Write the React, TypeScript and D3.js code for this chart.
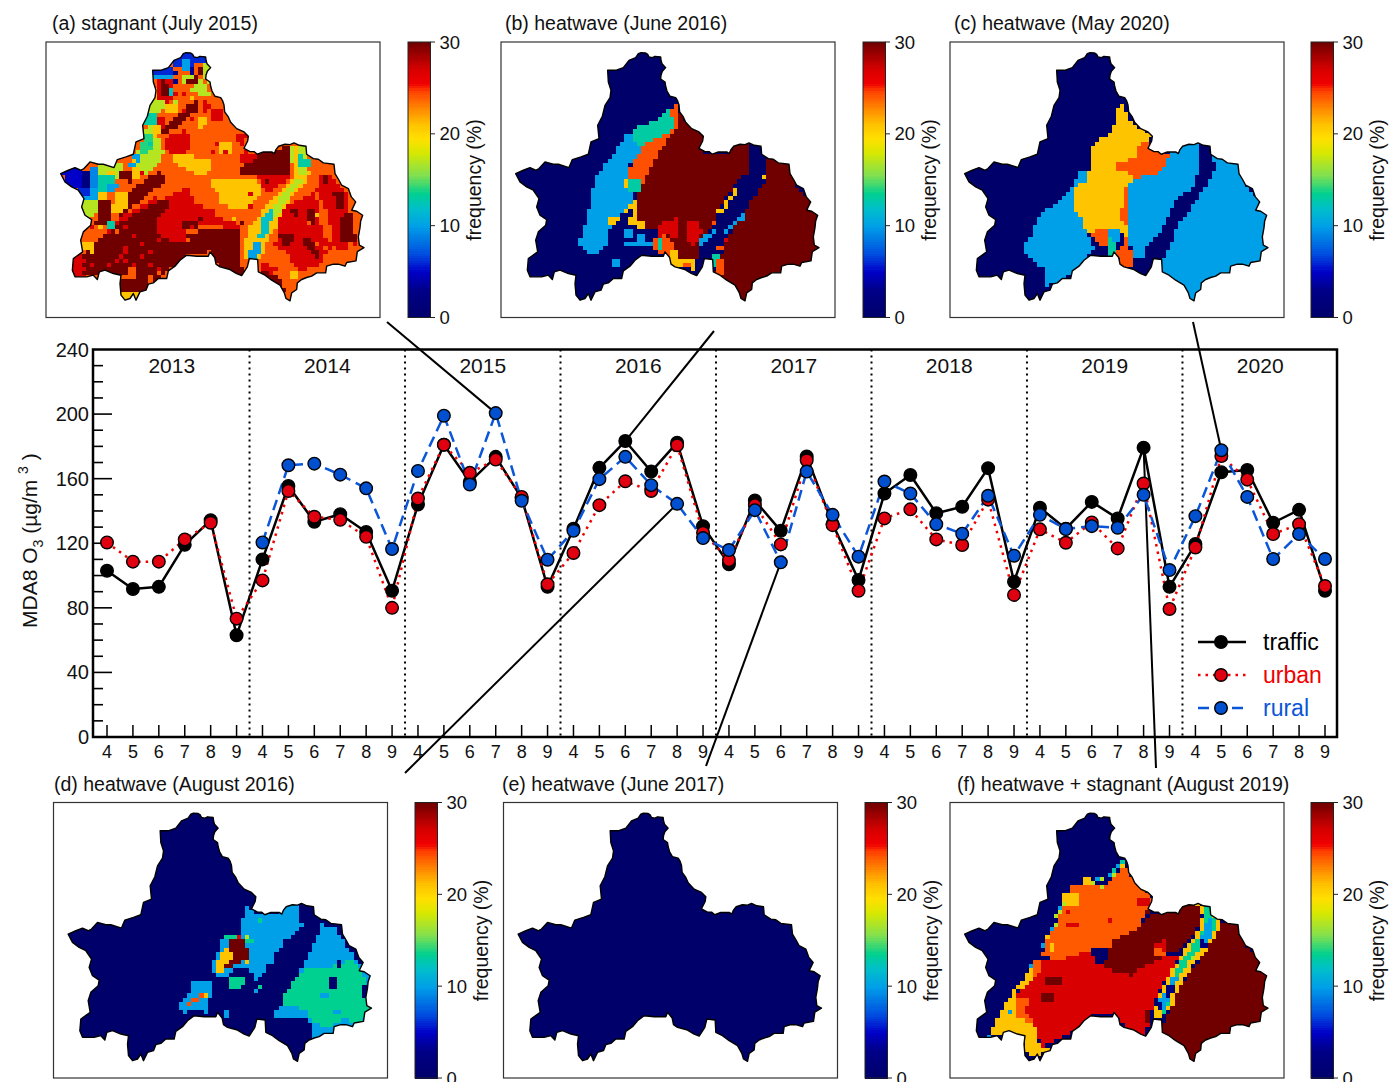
import React from "react";
import * as d3 from "d3";

type Pt = [number, number];
type Zone = [number, Pt[]];
type Spot = [number, number, number];

const years = [2013, 2014, 2015, 2016, 2017, 2018, 2019, 2020];
const months = [4, 5, 6, 7, 8, 9];

const traffic = [
  103, 91.7, 93, 119, 134.3, 63,
  110, 155.5, 133.3, 138, 127, 90.6,
  144, 181, 158, 173.5, 148, 93,
  129, 166.7, 183.3, 164.4, 182.3, 130.6,
  107, 146.5, 127.7, 173.7, 132, 97.2,
  150.8, 162.3, 138.6, 142.6, 166.5, 96.2,
  142, 129, 145.6, 135.4, 179.2, 93,
  119.5, 164, 165.4, 132.7, 140.7, 90.6,
];
const urban = [
  120.5, 108.6, 108.6, 122.4, 132.7, 73.3,
  97, 152.4, 136.4, 134.5, 124, 80,
  147.7, 181, 163.6, 171.8, 148.7, 94.6,
  114, 143.6, 158.4, 152.4, 180.7, 126.5,
  109.6, 143.6, 119.3, 171.4, 131.2, 90.6,
  135.4, 141, 122.4, 118.9, 147, 88,
  128.6, 120.3, 132.9, 116.8, 157, 79.3,
  117.4, 174, 159.4, 125.7, 131.8, 93.5,
];
const rural = [
  null, null, null, null, null, null,
  120.5, 168.3, 169.3, 162.5, 154, 116.4,
  164.8, 199, 156.4, 200.6, 146.3, 109.8,
  127.7, 159.7, 173.5, 156, 144.4, 123.2,
  115.8, 140.5, 108.2, 164.4, 137.6, 111.7,
  158.2, 150.8, 131.8, 125.9, 149.4, 112.3,
  137.6, 128.8, 130.6, 129.6, 150, 103.4,
  136.8, 177.6, 148.7, 110.2, 125.7, 110.2,
];

// outline of the basin, read in map units (3x the panel's pixels)
const outline: Pt[] = [
  [430, 130], [438, 127], [452, 128], [458, 132], [462, 140], [472, 142], [480, 138], [497, 140], [498, 150], [501, 160],
  [512, 172], [502, 183], [498, 195], [497, 206], [510, 215], [512, 228], [516, 242], [525, 258], [542, 262], [548, 272],
  [552, 284], [554, 305], [565, 320], [572, 336], [590, 355], [612, 365], [625, 378], [623, 392], [612, 414], [630, 424],
  [642, 424], [652, 432], [670, 425], [695, 425], [703, 430], [708, 418], [716, 408], [735, 402], [750, 403], [762, 398],
  [778, 405], [798, 408], [800, 432], [820, 445], [835, 447], [850, 458], [882, 462], [885, 490], [897, 510], [905, 525],
  [925, 535], [934, 560], [947, 575], [935, 600], [950, 603], [968, 615], [962, 632], [960, 652], [955, 680], [958, 705],
  [972, 712], [952, 724], [948, 752], [920, 757], [915, 768], [895, 762], [880, 762], [860, 768], [857, 788], [830, 788],
  [815, 798], [800, 802], [785, 808], [772, 818], [770, 838], [755, 848], [750, 872], [738, 865], [733, 848], [720, 825],
  [695, 810], [675, 795], [655, 785], [653, 748], [628, 745], [622, 770], [605, 796], [590, 790], [570, 778], [540, 770],
  [528, 762], [524, 742], [510, 725], [505, 738], [470, 738], [440, 735], [420, 750], [405, 768], [385, 782], [380, 805],
  [355, 805], [340, 818], [325, 822], [318, 840], [300, 845], [288, 870], [280, 850], [270, 865], [255, 870], [243, 855],
  [240, 820], [243, 795], [220, 790], [195, 780], [178, 785], [172, 808], [160, 795], [140, 800], [105, 800], [97, 780],
  [100, 745], [128, 725], [122, 690], [130, 665], [152, 645], [155, 628], [135, 615], [125, 590], [132, 565], [115, 540],
  [95, 530], [75, 515], [62, 490], [85, 480], [105, 472], [122, 480], [132, 475], [150, 455], [175, 462], [190, 462],
  [222, 472], [232, 448], [258, 440], [280, 432], [288, 395], [312, 385], [308, 345], [322, 318], [330, 285], [345, 262],
  [348, 240], [340, 215], [338, 180], [362, 180], [385, 172], [402, 150], [422, 142],
];

const zonesA: Zone[] = [
  [27, [[345, 320], [375, 320], [380, 375], [345, 375]]],
  [17, [[320, 345], [350, 345], [370, 430], [350, 470], [320, 500], [275, 480], [290, 420], [315, 380]]],
  [21, [[330, 340], [360, 345], [365, 375], [335, 380]]],
  [14, [[320, 370], [340, 380], [330, 420], [295, 440], [300, 400]]],
  [10, [[275, 440], [300, 430], [290, 470], [265, 470]]],
  [21, [[270, 470], [310, 480], [300, 505], [275, 500]]],
  [27, [[350, 575], [380, 560], [440, 530], [470, 580], [520, 600], [530, 625], [590, 630], [600, 660], [510, 645], [430, 630], [440, 690], [400, 700], [355, 670], [350, 620]]],
  [27, [[235, 620], [350, 560], [350, 670], [280, 700], [170, 700]]],
  [27, [[90, 735], [128, 715], [135, 810], [90, 800]]],
  [30, [[120, 745], [170, 700], [200, 670], [255, 630], [300, 600], [350, 575], [380, 560], [385, 590], [350, 620], [355, 670], [400, 700], [440, 690], [440, 735], [395, 775], [345, 815], [250, 800], [175, 795], [125, 800]]],
  [30, [[260, 560], [300, 520], [360, 480], [385, 510], [330, 545], [290, 580], [240, 620]]],
  [30, [[440, 665], [595, 660], [610, 800], [540, 775], [510, 725], [440, 735], [445, 690]]],
  [30, [[430, 630], [470, 630], [470, 660], [430, 660]]],
  [27, [[370, 380], [440, 360], [455, 390], [440, 430], [395, 430], [370, 410]]],
  [30, [[360, 365], [400, 325], [440, 290], [478, 268], [478, 295], [420, 340], [380, 375]]],
  [27, [[515, 300], [550, 300], [550, 335], [515, 335]]],
  [27, [[490, 270], [520, 290], [490, 310]]],
  [21, [[470, 320], [505, 315], [495, 345], [470, 345]]],
  [27, [[585, 365], [625, 375], [610, 405], [595, 400]]],
  [21, [[515, 505], [640, 505], [670, 535], [640, 580], [610, 600], [590, 600], [540, 575], [530, 540], [515, 530]]],
  [21, [[400, 435], [480, 440], [520, 455], [515, 475], [495, 500], [440, 480], [400, 460]]],
  [21, [[540, 395], [575, 395], [570, 435], [540, 430]]],
  [27, [[610, 425], [650, 430], [640, 462], [598, 462], [595, 440]]],
  [27, [[650, 490], [750, 500], [690, 550], [670, 530]]],
  [30, [[598, 465], [640, 462], [650, 430], [750, 410], [750, 500], [700, 490], [645, 490], [598, 490]]],
  // east side
  [27, [[715, 600], [830, 545], [835, 620], [860, 690], [880, 710], [830, 770], [780, 780], [730, 720], [705, 710]]],
  [30, [[715, 670], [760, 670], [755, 710], [725, 712]]],
  [30, [[785, 685], [825, 690], [835, 745], [800, 720]]],
  [30, [[810, 585], [835, 615], [820, 640], [800, 620]]],
  [30, [[760, 590], [780, 590], [780, 615], [760, 615]]],
  [27, [[840, 500], [880, 500], [930, 560], [930, 610], [950, 700], [900, 730], [880, 700], [860, 600], [830, 540]]],
  [30, [[880, 545], [915, 545], [915, 600], [885, 595]]],
  [30, [[895, 620], [930, 605], [950, 700], [905, 690]]],
  [27, [[660, 750], [690, 760], [700, 790], [670, 790]]],
  [30, [[655, 780], [690, 790], [715, 805], [755, 872], [735, 850], [690, 812]]],
  [21, [[750, 780], [775, 780], [775, 805], [750, 805]]],
  // diagonal valley
  [21, [[610, 740], [620, 680], [660, 610], [720, 540], [770, 500], [820, 480], [800, 510], [750, 570], [710, 630], [665, 740]]],
  [17, [[755, 515], [790, 505], [760, 545], [720, 600], [690, 640], [680, 625], [710, 575]]],
  [12, [[670, 620], [705, 590], [680, 680], [650, 690]]],
  [10, [[640, 700], [665, 690], [655, 745], [625, 745]]],
  [17, [[750, 405], [790, 405], [810, 450], [795, 490], [760, 490]]],
  [13, [[780, 435], [810, 445], [810, 465], [780, 465]]],
  [21, [[760, 405], [778, 405], [778, 490], [760, 490]]],
  // west arm
  [17, [[165, 465], [240, 450], [250, 480], [220, 520], [170, 490]]],
  [21, [[190, 490], [225, 480], [220, 495], [190, 500]]],
  [13, [[170, 500], [220, 500], [220, 540], [170, 540]]],
  [10, [[205, 515], [240, 515], [225, 545], [200, 540]]],
  [30, [[240, 480], [275, 480], [275, 515], [240, 510]]],
  [21, [[225, 545], [260, 540], [255, 610], [215, 610]]],
  [21, [[170, 540], [205, 540], [205, 570], [170, 570]]],
  [30, [[175, 575], [215, 575], [205, 640], [160, 650], [180, 610]]],
  [17, [[120, 575], [170, 570], [170, 600], [145, 635], [120, 610]]],
  [9, [[155, 470], [172, 470], [172, 530], [155, 530]]],
  [5, [[55, 470], [122, 470], [122, 530], [85, 530]]],
  [2, [[120, 478], [155, 478], [155, 530], [120, 530]]],
  [6, [[100, 530], [155, 530], [155, 555], [120, 555]]],
  [10, [[155, 530], [175, 530], [175, 570], [120, 570], [120, 555], [155, 555]]],
  [21, [[125, 690], [165, 690], [165, 730], [130, 720]]],
  [13, [[205, 630], [230, 630], [230, 655], [205, 655]]],
  // bottom lobe
  [24, [[265, 775], [290, 775], [290, 810], [265, 810]]],
  [30, [[240, 810], [325, 810], [325, 845], [240, 845]]],
  [21, [[240, 845], [295, 845], [295, 880], [240, 880]]],
  // north tip
  [17, [[430, 190], [470, 195], [520, 260], [475, 260], [460, 220], [430, 225]]],
  [21, [[335, 230], [365, 230], [370, 270], [335, 270]]],
  [17, [[320, 265], [370, 270], [370, 300], [320, 305]]],
  [21, [[370, 290], [410, 280], [420, 310], [380, 310]]],
  [13, [[305, 310], [352, 310], [352, 340], [305, 340]]],
  [27, [[345, 205], [395, 205], [395, 265], [345, 265]]],
  [30, [[360, 205], [380, 205], [385, 265], [360, 255]]],
  [30, [[430, 205], [470, 200], [470, 225], [440, 225]]],
  [30, [[475, 175], [495, 175], [490, 200], [475, 195]]],
  [17, [[495, 150], [515, 170], [515, 230], [490, 200]]],
  [12, [[385, 230], [405, 230], [405, 260], [385, 260]]],
  [10, [[335, 195], [395, 195], [395, 210], [335, 210]]],
  [6, [[330, 170], [405, 165], [405, 195], [330, 195]]],
  [3, [[395, 185], [415, 185], [415, 225], [395, 225]]],
  [6, [[405, 120], [500, 120], [505, 150], [470, 160], [445, 175], [405, 170]]],
  [10, [[420, 150], [445, 150], [445, 185], [420, 185]]],
  [3, [[445, 170], [460, 170], [460, 195], [445, 195]]],
];

const spotsA: Spot[] = [
  [250, 715, 27], [262, 730, 27], [240, 740, 27], [312, 712, 27], [325, 730, 27], [300, 740, 27], [350, 690, 27],
  [262, 750, 27], [275, 770, 27], [225, 760, 27], [212, 770, 27], [150, 770, 27], [125, 760, 27], [330, 770, 27],
  [362, 775, 27], [350, 790, 24], [325, 810, 24], [137, 750, 27], [137, 780, 27], [275, 675, 27], [170, 675, 24],
  [150, 690, 24], [137, 670, 24], [150, 655, 27], [175, 660, 21], [225, 665, 24], [237, 625, 24], [250, 650, 27],
  [462, 650, 27], [487, 625, 30], [512, 620, 27], [487, 545, 24], [487, 560, 24], [525, 580, 24], [575, 635, 21],
  [600, 640, 30], [575, 650, 27], [625, 560, 27], [637, 590, 27], [662, 575, 24], [687, 520, 30], [712, 550, 24],
  [520, 425, 27], [537, 412, 27], [550, 437, 27], [537, 450, 24], [487, 362, 21], [400, 250, 24], [412, 262, 27],
  [425, 240, 24], [437, 255, 27], [450, 270, 21], [462, 240, 17], [487, 250, 17], [500, 262, 17], [412, 212, 24],
  [375, 287, 27], [400, 287, 17], [412, 300, 21], [437, 312, 27], [450, 325, 27], [350, 412, 17], [362, 387, 24],
  [287, 450, 21], [312, 450, 17], [337, 400, 13], [350, 350, 21], [300, 490, 27], [825, 620, 21], [800, 640, 24],
  [760, 605, 30], [775, 625, 27], [700, 650, 21], [637, 650, 21], [650, 630, 21], [925, 710, 24], [912, 745, 24],
  [862, 500, 30], [850, 520, 30], [812, 520, 24], [837, 700, 24], [862, 720, 24], [700, 775, 27], [725, 790, 24],
];

const zonesB: Zone[] = [
  [10, [[395, 370], [445, 395], [440, 420], [410, 455], [395, 480], [395, 510], [415, 545], [415, 570], [385, 600], [370, 620], [345, 650], [335, 690], [330, 710], [305, 735], [285, 735], [250, 705], [265, 655], [280, 600], [290, 550], [310, 490], [350, 435], [380, 400]]],
  [0, [[345, 650], [370, 625], [385, 650], [385, 720], [330, 720]]],
  [10, [[350, 740], [372, 740], [372, 775], [350, 775]]],
  [10, [[385, 695], [470, 695], [470, 712], [385, 712]]],
  [10, [[385, 655], [410, 655], [410, 682], [385, 682]]],
  [10, [[420, 670], [445, 670], [445, 696], [420, 696]]],
  [13, [[525, 295], [538, 350], [500, 380], [455, 395], [443, 420], [405, 380], [415, 352], [455, 350], [490, 320]]],
  [13, [[405, 505], [442, 505], [442, 545], [405, 545]]],
  [13, [[655, 738], [680, 738], [680, 765], [655, 765]]],
  [24.3, [[525, 295], [548, 285], [550, 350], [510, 395], [470, 470], [445, 515], [400, 510], [395, 480], [440, 420], [455, 395], [500, 380], [538, 350]]],
  [30, [[550, 300], [580, 345], [630, 375], [612, 418], [650, 438], [700, 438], [715, 395], [762, 395], [762, 490], [750, 495], [720, 520], [665, 605], [660, 640], [610, 700], [610, 750], [550, 750], [540, 715], [490, 660], [445, 655], [430, 630], [430, 545], [445, 520], [470, 470], [510, 395], [550, 350]]],
  [30, [[810, 445], [885, 455], [900, 520], [940, 565], [975, 610], [975, 720], [945, 770], [850, 800], [790, 820], [750, 880], [690, 815], [650, 790], [680, 770], [680, 740], [700, 680], [750, 600], [810, 510]]],
  [21, [[430, 545], [430, 630], [455, 630], [455, 655], [430, 655], [405, 642], [408, 600], [385, 612], [385, 600], [408, 585]]],
  [21, [[335, 615], [370, 615], [370, 630], [345, 650], [335, 650]]],
  [21, [[382, 505], [395, 505], [395, 530], [382, 530]]],
  [27, [[480, 660], [510, 630], [550, 625], [550, 680], [540, 690], [510, 670], [490, 680]]],
  [27, [[580, 630], [610, 630], [622, 670], [590, 710], [575, 680]]],
  [24.3, [[465, 695], [490, 680], [510, 670], [540, 710], [550, 750], [525, 745], [490, 725]]],
  [21, [[525, 725], [550, 725], [550, 750], [600, 750], [600, 778], [530, 770]]],
  [24.3, [[560, 752], [590, 752], [590, 765], [560, 765]]],
  [13, [[490, 682], [502, 682], [502, 720], [490, 720]]],
  [21, [[668, 598], [682, 598], [695, 570], [728, 518], [732, 530], [690, 600], [668, 612]]],
  [24.3, [[656, 627], [668, 627], [668, 640], [656, 640]]],
  [24.3, [[668, 750], [682, 750], [682, 800], [660, 790]]],
  [24.3, [[668, 710], [682, 710], [682, 725], [668, 725]]],
  [27, [[692, 680], [705, 680], [705, 695], [692, 695]]],
  [21, [[798, 490], [811, 490], [811, 503], [798, 503]]],
  [10, [[733, 615], [755, 600], [745, 627], [700, 660], [690, 680], [680, 680], [700, 645]]],
  [10, [[610, 695], [660, 650], [665, 660], [620, 710], [610, 710]]],
];

const zonesC: Zone[] = [
  [10, [[545, 530], [570, 505], [630, 490], [665, 460], [680, 420], [715, 395], [760, 395], [760, 480], [745, 530], [700, 565], [665, 625], [650, 670], [605, 710], [605, 750], [560, 750], [555, 690]]],
  [10, [[805, 435], [885, 450], [900, 520], [940, 565], [975, 610], [975, 720], [945, 770], [850, 800], [790, 820], [745, 885], [690, 815], [640, 790], [665, 730], [700, 645], [740, 590], [790, 520], [807, 480]]],
  [10, [[390, 530], [390, 600], [415, 640], [420, 670], [450, 710], [430, 740], [395, 780], [345, 820], [295, 830], [295, 790], [305, 770], [270, 765], [235, 715], [260, 670], [285, 615], [300, 600], [345, 575]]],
  [10, [[400, 478], [430, 478], [430, 530], [390, 535]]],
  [21, [[535, 285], [550, 330], [590, 360], [630, 380], [610, 395], [595, 395], [595, 420], [570, 425], [570, 445], [510, 465], [510, 480], [555, 490], [560, 510], [545, 530], [530, 600], [525, 625], [545, 645], [545, 690], [525, 660], [450, 655], [440, 680], [420, 670], [415, 640], [390, 600], [390, 530], [425, 515], [430, 480], [440, 470], [440, 420], [450, 395], [490, 375], [510, 345], [510, 310]]],
  [24.3, [[595, 395], [610, 395], [610, 420], [675, 430], [665, 460], [630, 490], [570, 505], [555, 490], [510, 480], [510, 465], [570, 445], [570, 425]]],
  [24.3, [[535, 530], [545, 530], [545, 590], [555, 630], [545, 640], [525, 625], [522, 600], [535, 590]]],
  [24.3, [[535, 680], [555, 680], [557, 740], [570, 770], [530, 770], [510, 725], [530, 720]]],
  [24.3, [[450, 655], [485, 655], [485, 700], [475, 715], [450, 695], [438, 680]]],
  [10, [[485, 655], [522, 660], [522, 695], [510, 700], [487, 680]]],
  [13, [[485, 682], [510, 700], [510, 745], [485, 740]]],
];

const zonesD: Zone[] = [
  [10, [[605, 410], [620, 425], [650, 430], [700, 430], [720, 395], [760, 395], [770, 470], [750, 490], [720, 510], [690, 550], [685, 585], [660, 575], [655, 620], [630, 630], [630, 610], [610, 600], [560, 600], [540, 620], [510, 620], [500, 580], [525, 535], [535, 490], [585, 490], [585, 465], [595, 440]]],
  [10, [[830, 460], [870, 475], [905, 530], [940, 575], [975, 615], [985, 715], [950, 770], [850, 800], [795, 830], [795, 760], [785, 740], [745, 750], [690, 750], [690, 720], [712, 710], [712, 680], [750, 630], [785, 560], [815, 510]]],
  [13.5, [[785, 590], [860, 590], [900, 575], [915, 560], [955, 610], [965, 680], [985, 715], [945, 755], [895, 750], [850, 770], [810, 760], [785, 740], [780, 715], [712, 710], [712, 680], [750, 630]]],
  [0, [[845, 625], [880, 625], [880, 655], [845, 655]]],
  [0, [[870, 560], [890, 575], [890, 600], [870, 600]]],
  [0, [[955, 640], [970, 640], [970, 685], [955, 685]]],
  [10, [[830, 670], [855, 670], [855, 682], [830, 682]]],
  [10, [[865, 725], [890, 725], [890, 738], [865, 738]]],
  [13.5, [[535, 490], [580, 490], [580, 505], [535, 505]]],
  [13.5, [[595, 505], [620, 505], [620, 520], [595, 520]]],
  [17, [[595, 490], [618, 490], [618, 505], [595, 505]]],
  [26, [[580, 490], [592, 490], [592, 505], [580, 505]]],
  [30, [[545, 520], [560, 505], [590, 505], [615, 545], [615, 575], [590, 575], [560, 585], [555, 600], [535, 600], [530, 560], [545, 545]]],
  [21, [[533, 535], [555, 535], [558, 560], [570, 570], [545, 575], [535, 600], [525, 612], [510, 600], [510, 575], [530, 560]]],
  [21, [[595, 575], [618, 575], [618, 587], [595, 587]]],
  [13.5, [[560, 615], [590, 615], [605, 650], [560, 655], [545, 640]]],
  [10, [[430, 630], [500, 630], [495, 670], [490, 710], [495, 735], [450, 715], [410, 735], [403, 700], [440, 660]]],
  [10, [[535, 725], [545, 725], [545, 750], [535, 750]]],
  [24.3, [[440, 685], [462, 685], [462, 697], [440, 697]]],
  [24.3, [[427, 698], [440, 698], [440, 710], [427, 710]]],
  [24.3, [[460, 670], [473, 670], [473, 682], [460, 682]]],
  [21, [[473, 670], [486, 670], [486, 682], [473, 682]]],
  [13.5, [[620, 450], [630, 450], [630, 475], [620, 475]]],
  [13.5, [[640, 450], [652, 450], [652, 462], [640, 462]]],
  [13.5, [[640, 645], [652, 645], [652, 657], [640, 657]]],
  [10, [[630, 655], [640, 655], [640, 667], [630, 667]]],
];

const zonesF: Zone[] = [
  [30, [[805, 465], [885, 455], [900, 520], [940, 565], [975, 615], [975, 715], [945, 770], [850, 800], [790, 820], [745, 885], [690, 815], [640, 790], [665, 735], [700, 660], [740, 600], [790, 530], [815, 490]]],
  [24, [[535, 270], [550, 320], [610, 370], [630, 395], [605, 425], [590, 460], [570, 480], [510, 505], [490, 535], [440, 535], [420, 545], [340, 570], [290, 560], [300, 520], [330, 470], [380, 345], [415, 345], [470, 350], [510, 320]]],
  [30, [[605, 425], [650, 435], [710, 400], [755, 395], [760, 460], [745, 495], [720, 520], [695, 545], [665, 545], [650, 560], [620, 580], [590, 600], [555, 615], [500, 600], [450, 585], [485, 570], [490, 535], [510, 505], [570, 480], [590, 460], [610, 440]]],
  [27, [[280, 565], [340, 570], [420, 545], [440, 535], [450, 580], [500, 600], [555, 615], [620, 580], [650, 560], [695, 560], [690, 580], [660, 630], [625, 700], [610, 760], [590, 800], [540, 775], [510, 730], [440, 735], [390, 780], [320, 820], [285, 835], [275, 770], [230, 760], [215, 720], [215, 680], [240, 640], [260, 600]]],
  [24, [[215, 680], [260, 680], [240, 720], [270, 770], [230, 770], [205, 740]]],
  [24, [[262, 570], [290, 570], [290, 600], [262, 620]]],
  [21, [[135, 800], [150, 750], [180, 700], [210, 650], [240, 620], [255, 590], [265, 610], [245, 650], [215, 660], [215, 740], [270, 770], [285, 835], [325, 825], [285, 855], [250, 865], [235, 805], [175, 800]]],
  [30, [[305, 615], [355, 615], [355, 640], [305, 640]]],
  [30, [[285, 670], [320, 670], [320, 695], [285, 695]]],
  [30, [[595, 725], [607, 725], [607, 755], [595, 755]]],
  [27, [[620, 525], [665, 510], [665, 545], [620, 560]]],
  [24, [[620, 535], [650, 530], [665, 560], [630, 560]]],
  [21, [[355, 370], [400, 370], [400, 405], [355, 405]]],
  [21, [[415, 315], [440, 315], [440, 345], [415, 345]]],
  [21, [[310, 520], [330, 520], [330, 545], [310, 545]]],
  [27, [[575, 380], [610, 380], [610, 405], [575, 405]]],
  [27, [[355, 465], [400, 450], [400, 475], [355, 475]]],
  [21, [[755, 400], [795, 405], [820, 450], [820, 480], [790, 530], [740, 590], [700, 650], [680, 710], [650, 745], [620, 740], [640, 680], [670, 620], [700, 565], [750, 495], [770, 440]]],
  [17, [[725, 548], [755, 548], [745, 570], [725, 570]]],
  [13.5, [[775, 405], [795, 410], [810, 450], [805, 490], [775, 530], [730, 575], [700, 620], [670, 700], [655, 735], [640, 700], [670, 640], [700, 580], [755, 510], [775, 470]]],
  [10, [[785, 445], [805, 450], [790, 520], [770, 530], [760, 505], [775, 480]]],
  [10, [[680, 620], [700, 620], [680, 680], [650, 725], [640, 690], [665, 650]]],
  [2, [[760, 505], [775, 505], [785, 530], [765, 530]]],
  [2, [[665, 650], [690, 645], [680, 680], [665, 680]]],
  [2, [[642, 700], [655, 700], [655, 722], [642, 722]]],
];

const spotsF: Spot[] = [
  [525, 275, 13], [515, 290, 10], [525, 290, 21], [505, 305, 13], [490, 320, 10], [500, 320, 17], [470, 337, 17],
  [455, 335, 10], [440, 345, 17], [355, 400, 17], [345, 415, 10], [345, 430, 17], [335, 445, 17], [325, 470, 17],
  [315, 482, 10], [290, 525, 10], [300, 512, 21], [250, 595, 10], [192, 733, 10], [135, 800, 10], [365, 430, 27],
  [490, 457, 27], [470, 362, 17],
];

const noSpots: Spot[] = [];

const titles = [
  "(a) stagnant (July 2015)", "(b) heatwave (June 2016)", "(c) heatwave (May 2020)",
  "(d) heatwave (August 2016)", "(e) heatwave (June 2017)", "(f) heatwave + stagnant (August 2019)",
];

const stops = [0, 3, 5, 7, 10, 12, 13.5, 15.5, 18, 19.5, 21, 23, 24.7, 25.5, 27, 30];
const stopColors = [
  "#00006a", "#000088", "#0000c8", "#0050e0", "#00a0e8", "#00c0c8", "#00d090", "#80e050",
  "#d8e800", "#ffe000", "#ffc400", "#ff8000", "#ff4000", "#f00000", "#d80000", "#700000",
];
const color = d3.scaleLinear<string>().domain(stops).range(stopColors).clamp(true);

const FONT = "'Liberation Sans', Arial, sans-serif";
const CELL = 12.5;
const gridX = d3.range(50, 990, CELL);
const gridY = d3.range(120, 890, CELL);

function rasterize(zones: Zone[], spots: Spot[], base: number) {
  const runs: { x: number; y: number; n: number; v: number }[] = [];
  const key = (x: number, y: number) => `${Math.floor(x / CELL)}_${Math.floor(y / CELL)}`;
  const spotMap = new Map(spots.map((s) => [key(s[0], s[1]), s[2]]));
  gridY.forEach((gy) => {
    let run: { x: number; y: number; n: number; v: number } | null = null;
    gridX.forEach((gx) => {
      const cx = gx + CELL / 2;
      const cy = gy + CELL / 2;
      let v = base;
      zones.forEach((z) => {
        if (d3.polygonContains(z[1], [cx, cy])) v = z[0];
      });
      const s = spotMap.get(key(cx, cy));
      if (s !== undefined) v = s;
      if (run && run.v === v) run.n += 1;
      else {
        run = { x: gx, y: gy, n: 1, v };
        runs.push(run);
      }
    });
  });
  return runs;
}

const panels = [
  { x: 46, y: 42, cb: 408, dx: 0, dy: 0, tx: 52, ty: 30, zones: zonesA, spots: spotsA, base: 24 },
  { x: 501, y: 42, cb: 863, dx: 0, dy: 0, tx: 505, ty: 30, zones: zonesB, spots: noSpots, base: 0 },
  { x: 950, y: 42, cb: 1311, dx: -3, dy: 1, tx: 954, ty: 30, zones: zonesC, spots: noSpots, base: 0 },
  { x: 53.5, y: 802.5, cb: 415, dx: 7, dy: 2, tx: 54, ty: 791, zones: zonesD, spots: noSpots, base: 0 },
  { x: 503.5, y: 802.5, cb: 865, dx: 0, dy: 0, tx: 502, ty: 791, zones: [] as Zone[], spots: noSpots, base: 0 },
  { x: 950, y: 802.5, cb: 1311, dx: -4, dy: 2, tx: 957, ty: 791, zones: zonesF, spots: spotsF, base: 0 },
];

const PW = 334;
const PH = 275.5;
const CW = 22.5;

function MapPanel({ p, idx }: { p: (typeof panels)[number]; idx: number }) {
  const sx = d3.scaleLinear().domain([18 + p.dx, 1020 + p.dx]).range([p.x, p.x + PW]);
  const sy = d3.scaleLinear().domain([95 + p.dy, 922 + p.dy]).range([p.y, p.y + PH]);
  const shape = d3.line<Pt>().x((d) => sx(d[0] + p.dx)).y((d) => sy(d[1] + p.dy)).curve(d3.curveLinearClosed);
  const runs = rasterize(p.zones, p.spots, p.base);
  const cy = d3.scaleLinear().domain([0, 30]).range([p.y + PH, p.y]);
  const bar = d3.range(0, 30, 0.25);
  return (
    <g>
      <text x={p.tx} y={p.ty} fontSize={19.5} fill="#111">{titles[idx]}</text>
      <rect x={p.x} y={p.y} width={PW} height={PH} fill="#fff" stroke="#333" strokeWidth={1.2} />
      <clipPath id={`basin${idx}`}><path d={shape(outline) as string} /></clipPath>
      <g clipPath={`url(#basin${idx})`} shapeRendering="crispEdges">
        {runs.map((r, i) => (
          <rect key={i} x={sx(r.x)} y={sy(r.y)} width={sx(r.x + r.n * CELL) - sx(r.x) + 0.4} height={sy(r.y + CELL) - sy(r.y) + 0.4} fill={color(r.v)} />
        ))}
      </g>
      <path d={shape(outline) as string} fill="none" stroke="#000" strokeWidth={1.4} strokeLinejoin="round" />
      <g shapeRendering="crispEdges">
        {bar.map((v) => (
          <rect key={v} x={p.cb} y={cy(v + 0.25)} width={CW} height={cy(v) - cy(v + 0.25) + 0.5} fill={color(v + 0.125)} />
        ))}
      </g>
      <rect x={p.cb} y={p.y} width={CW} height={PH} fill="none" stroke="#222" strokeWidth={1} />
      {[0, 10, 20, 30].map((t) => (
        <g key={t}>
          <line x1={p.cb + CW} x2={p.cb + CW + 4.5} y1={cy(t)} y2={cy(t)} stroke="#222" strokeWidth={1} />
          <text x={p.cb + CW + 9} y={cy(t) + 6.5} fontSize={18.5} fill="#111">{t}</text>
        </g>
      ))}
      <text transform={`translate(${p.cb + CW + 50},${p.y + 138}) rotate(-90)`} textAnchor="middle" fontSize={19.5} fill="#111">frequency (%)</text>
    </g>
  );
}

const series = [
  { name: "traffic", values: traffic, stroke: "#000", fill: "#000", dash: undefined as string | undefined, text: "#000" },
  { name: "urban", values: urban, stroke: "#f00000", fill: "#e00010", dash: "2.5 5", text: "#f00000" },
  { name: "rural", values: rural, stroke: "#0a55d8", fill: "#0050d0", dash: "11 6", text: "#0a55d8" },
];

// which dot each map's leader line ends on, and where it leaves the map
const leaders: [number, number, number, number][] = [
  [2, 15, 387, 322],
  [0, 20, 714, 331],
  [2, 43, 1193, 322],
  [2, 22, 405, 773],
  [2, 26, 706, 766],
  [0, 40, 1156, 768],
];

export default function App() {
  const left = 93;
  const right = 1337;
  const top = 349.5;
  const bottom = 737;
  const idx = d3.range(years.length * months.length);
  const x = d3.scalePoint<number>().domain(idx).range([107, 1325]);
  const y = d3.scaleLinear().domain([0, 240]).range([bottom, top]);
  const step = x.step();
  const line = d3
    .line<number | null>()
    .defined((d) => d !== null)
    .x((_, i) => x(i) as number)
    .y((d) => y(d as number));

  return (
    <svg width={1390} height={1082} style={{ position: "absolute", left: 0, top: 0, fontFamily: FONT, background: "#fff" }}>
      {panels.map((p, i) => <MapPanel key={i} p={p} idx={i} />)}

      {d3.range(0, 241, 10).filter((t) => t > 0 && t < 240).map((t) => (
        <line key={t} x1={left} x2={left + (t % 40 === 0 ? 19 : 10)} y1={y(t)} y2={y(t)} stroke="#000" strokeWidth={1.6} />
      ))}
      {d3.range(0, 241, 40).map((t) => (
        <text key={t} x={89} y={y(t) + 7} textAnchor="end" fontSize={20} fill="#111">{t}</text>
      ))}
      {idx.map((i) => (
        <g key={i}>
          <line x1={x(i)} x2={x(i)} y1={bottom} y2={bottom - 12} stroke="#000" strokeWidth={1.5} />
          <text x={x(i)} y={758} textAnchor="middle" fontSize={18} fill="#111">{months[i % months.length]}</text>
        </g>
      ))}
      {years.map((yr, i) => {
        const x0 = (x(i * 6) as number) - step / 2;
        return (
          <g key={yr}>
            {i > 0 && <line x1={x0} x2={x0} y1={top} y2={bottom} stroke="#000" strokeWidth={2} strokeDasharray="2 4" />}
            <text x={x0 + step * 3} y={373} textAnchor="middle" fontSize={21} fill="#111">{yr}</text>
          </g>
        );
      })}
      <text transform="translate(37,628) rotate(-90)" fontSize={21} fill="#111">
        MDA8 O<tspan dy={6} fontSize={14}>3</tspan><tspan dy={-6}> (µg/m </tspan><tspan dy={-9} fontSize={14}>3</tspan><tspan dy={9}> )</tspan>
      </text>

      {leaders.map((l, i) => (
        <line key={i} x1={l[2]} y1={l[3]} x2={x(l[1])} y2={y(series[l[0]].values[l[1]] as number)} stroke="#000" strokeWidth={2} />
      ))}

      {series.map((s) => (
        <path key={s.name} d={line(s.values) as string} fill="none" stroke={s.stroke} strokeWidth={2.5} strokeDasharray={s.dash} strokeLinejoin="round" />
      ))}
      {series.map((s) =>
        s.values.map((v, i) =>
          v === null ? null : <circle key={s.name + i} cx={x(i)} cy={y(v)} r={6.3} fill={s.fill} stroke="#000" strokeWidth={1.4} />
        )
      )}

      <rect x={left} y={top} width={right - left} height={bottom - top} fill="none" stroke="#000" strokeWidth={2.5} />

      {series.map((s, i) => {
        const ly = 642 + i * 33;
        return (
          <g key={s.name}>
            <line x1={1198} x2={1246} y1={ly} y2={ly} stroke={s.stroke} strokeWidth={2.5} strokeDasharray={s.dash} />
            <circle cx={1221} cy={ly} r={6.3} fill={s.fill} stroke="#000" strokeWidth={1.4} />
            <text x={1263} y={ly + 8} fontSize={23} fill={s.text}>{s.name}</text>
          </g>
        );
      })}
    </svg>
  );
}
